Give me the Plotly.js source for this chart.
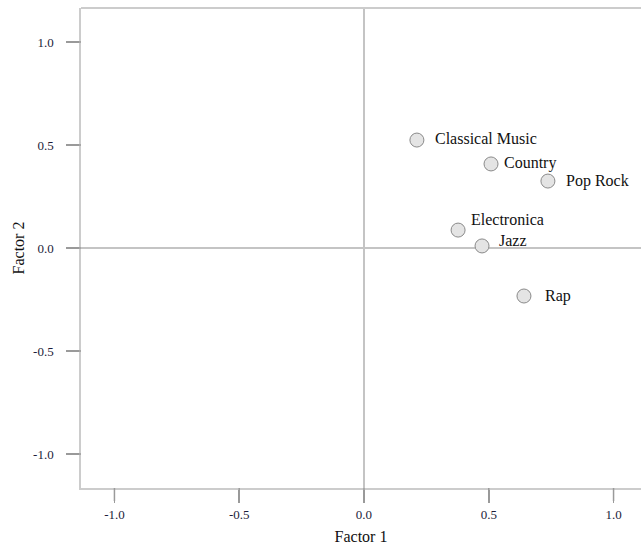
<!DOCTYPE html>
<html>
<head>
<meta charset="utf-8">
<script src="https://cdn.plot.ly/plotly-3.0.1.min.js"></script>
<style>html,body{margin:0;padding:0;background:#fff;}#chart{width:641px;height:548px;}</style>
</head>
<body>
<div id="chart"></div>
<script>
// Data
const genres = ["Classical Music", "Country", "Pop Rock", "Electronica", "Jazz", "Rap"];
const factor1 = [0.212, 0.509, 0.737, 0.377, 0.473, 0.641];
const factor2 = [0.524, 0.408, 0.325, 0.087, 0.010, -0.233];
const xTicks = [-1.0, -0.5, 0.0, 0.5, 1.0];
const yTicks = [-1.0, -0.5, 0.0, 0.5, 1.0];

// Label offsets (pixels) for each point label
const labelShift = {
  "Classical Music": [16, 2],
  "Country": [11, 1],
  "Pop Rock": [16, 0],
  "Electronica": [11, 11],
  "Jazz": [15, 5],
  "Rap": [19, 0]
};

const W = 641, H = 548;
const M = {l: 81, r: 0, t: 8, b: 60};
const plotW = W - M.l - M.r, plotH = H - M.t - M.b;
const TICKLEN = 13;

const serif = "Liberation Serif, Times New Roman, serif";
const pad = "\u00a0\u00a0\u00a0";
const tickLine = {color: "#9a9a9a", width: 1.5};

const trace = {
  type: "scatter",
  mode: "markers",
  x: factor1,
  y: factor2,
  marker: {size: 14, color: "#e4e4e4", line: {color: "#8a8a8a", width: 1}},
  hoverinfo: "skip",
  cliponaxis: false
};

const annotations = genres.map((g, i) => ({
  x: factor1[i], y: factor2[i], xref: "x", yref: "y",
  text: g, showarrow: false, xanchor: "left", yanchor: "middle",
  xshift: labelShift[g][0], yshift: labelShift[g][1],
  font: {family: serif, size: 16, color: "#111"}
}));

// tick marks (positions taken from the tick arrays through the axis scale)
const tickShapes = xTicks.map(v => ({
  type: "line", xref: "x", yref: "paper", x0: v, x1: v, y0: 0, y1: -TICKLEN / plotH,
  line: tickLine
})).concat(yTicks.map(v => ({
  type: "line", xref: "paper", yref: "y", x0: 0, x1: -TICKLEN / plotW, y0: v, y1: v,
  line: tickLine
})));

const layout = {
  width: W, height: H,
  margin: M,
  paper_bgcolor: "#fff", plot_bgcolor: "#fff",
  showlegend: false,
  font: {family: serif, color: "#222"},
  xaxis: {
    range: [-1.134, 1.110],
    tickvals: xTicks, ticktext: xTicks.map(v => v.toFixed(1)),
    showgrid: false, zeroline: true, zerolinecolor: "#c4c4c4", zerolinewidth: 1.5,
    showline: true, linecolor: "#cccccc", linewidth: 2,
    ticks: "outside", ticklen: TICKLEN, tickwidth: 1.5, tickcolor: "#9a9a9a",
    tickfont: {family: serif, size: 13, color: "#1c1c3a"},
    title: {text: "Factor 1", font: {family: serif, size: 16, color: "#111"}, standoff: 10},
    fixedrange: true
  },
  yaxis: {
    range: [-1.165, 1.165],
    tickvals: yTicks, ticktext: yTicks.map(v => v.toFixed(1) + pad),
    showgrid: false, zeroline: true, zerolinecolor: "#c4c4c4", zerolinewidth: 1.5,
    showline: true, linecolor: "#cccccc", linewidth: 2,
    ticks: "outside", ticklen: TICKLEN, tickwidth: 1.5, tickcolor: "#9a9a9a",
    tickfont: {family: serif, size: 13, color: "#1c1c3a"},
    title: {text: "Factor 2", font: {family: serif, size: 16, color: "#111"}, standoff: 4},
    fixedrange: true
  },
  shapes: [{
    type: "line", xref: "paper", yref: "paper", x0: 0, x1: 1, y0: 1, y1: 1,
    line: {color: "#cccccc", width: 2}
  }].concat(tickShapes),
  annotations: annotations
};

Plotly.newPlot("chart", [trace], layout, {displayModeBar: false, staticPlot: true});
</script>
</body>
</html>
